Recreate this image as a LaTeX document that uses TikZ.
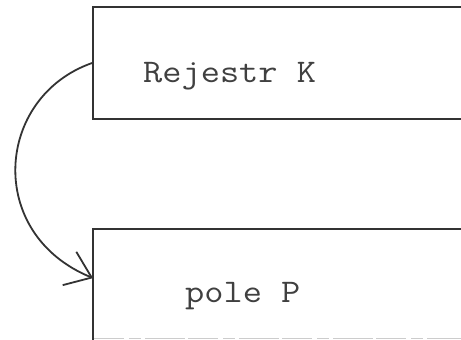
\documentclass[tikz,border=0pt]{standalone}
\usepackage{fontspec}
\usepackage{graphicx}
\usetikzlibrary{arrows.meta,calc}
\definecolor{ink}{HTML}{333333}
\definecolor{typeink}{HTML}{404040}
\newcommand{\typewide}[1]{\scalebox{1.13}[1]{#1}}
\tikzset{
  regbox/.style={draw=ink, line width=1.8pt, rectangle, inner sep=0pt},
  typed/.style={font=\ttfamily\fontsize{33}{36}\selectfont, text=typeink, inner sep=0pt, anchor=base west},
  link/.style={draw=ink, line width=1.8pt, -{Straight Barb[length=24pt,width=36pt,line width=1.8pt]}},
}
\begin{document}
\begin{tikzpicture}[x=1pt,y=-1pt]
  \useasboundingbox (0,0) rectangle (461,340);
  \clip (0,0) rectangle (461,340);
  \fill[white] (0,0) rectangle (461,340);
  % register box (runs off the right edge)
  \node[regbox, minimum width=382pt, minimum height=112pt] (regK) at (284,63) {};
  \node[typed] (regKtext) at (143,82) {\typewide{Rejestr K}};
  % field box (runs off the right and bottom edges)
  \node[regbox, draw=none, minimum width=381pt, minimum height=120pt] (fieldP) at (284.5,290) {};
  \draw[ink, line width=1.8pt] (fieldP.south west) |- (fieldP.north east);
  \draw[gray!40, line width=1.2pt, dash pattern=on 30pt off 5pt on 12pt off 4pt on 40pt off 3pt]
    ($(fieldP.north west)+(1,109)$) -- ($(fieldP.north east)+(0,109)$);
  \node[typed] (fieldPtext) at (185,302) {\typewide{pole P}};
  % transfer arrow from register to field
  \coordinate (into) at ($(fieldP.north west)+(0,49)$);
  \draw[link] (regK.west) .. controls (-5,97) and (-15,234) .. (into);
\end{tikzpicture}
\end{document}
